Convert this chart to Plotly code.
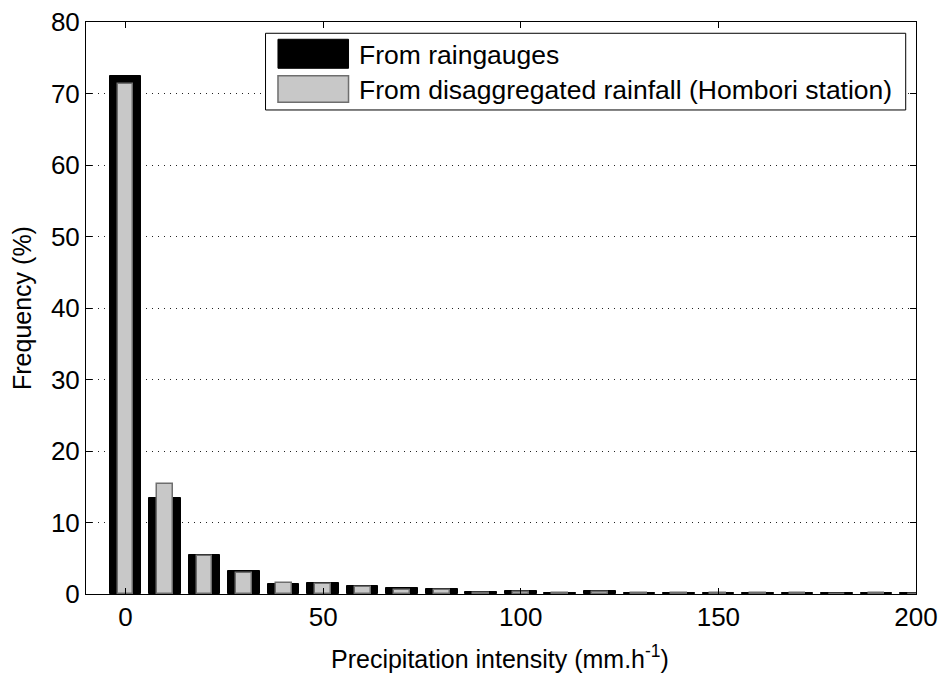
import plotly.graph_objects as go

# Data
bin_centers = [0, 10, 20, 30, 40, 50, 60, 70, 80, 90, 100, 110, 120, 130, 140, 150, 160, 170, 180, 190, 200]
raingauges = [72.4, 13.4, 5.4, 3.2, 1.4, 1.6, 1.05, 0.8, 0.65, 0.3, 0.4, 0.2, 0.45, 0.2, 0.2, 0.2, 0.15, 0.2, 0.12, 0.2, 0.15]
disaggregated = [71.3, 15.4, 5.3, 2.9, 1.6, 1.45, 1.0, 0.55, 0.5, 0.2, 0.3, 0.12, 0.35, 0.1, 0.1, 0.12, 0.08, 0.1, 0.06, 0.1, 0.05]
x_ticks = [0, 50, 100, 150, 200]
y_ticks = [0, 10, 20, 30, 40, 50, 60, 70, 80]
series_names = ["From raingauges", "From disaggregated rainfall (Hombori station)"]
x_title = "Precipitation intensity (mm.h<sup>-1</sup>)"
y_title = "Frequency (%)"

FONT = "Liberation Sans, Arial, sans-serif"
GRAY = "#c8c8c8"
GRAY_EDGE = "#6e6e6e"

fig = go.Figure()
fig.add_trace(go.Bar(x=bin_centers, y=raingauges, width=8, name=series_names[0],
                     marker=dict(color="black", line=dict(color="black", width=1)),
                     showlegend=False))
fig.add_trace(go.Bar(x=bin_centers, y=disaggregated, width=4, name=series_names[1],
                     marker=dict(color=GRAY, line=dict(color=GRAY_EDGE, width=1.5)),
                     showlegend=False))

axis_common = dict(showline=True, linecolor="black", linewidth=1, mirror="ticks",
                   ticks="inside", ticklen=6, tickcolor="black", zeroline=False,
                   automargin=False,
                   tickfont=dict(family=FONT, size=26, color="black"))

fig.update_layout(
    width=942, height=675,
    margin=dict(l=86, r=26, t=22, b=81),
    paper_bgcolor="white", plot_bgcolor="white",
    barmode="overlay", bargap=0,
    font=dict(family=FONT, size=26, color="black"),
    xaxis=dict(range=[-10, 200], tickvals=x_ticks, showgrid=False, **axis_common),
    yaxis=dict(range=[0, 80], tickvals=y_ticks, showgrid=True,
               gridcolor="#222222", gridwidth=1, griddash="1px,5px", **axis_common),
)

# Axis titles
fig.add_annotation(xref="paper", yref="paper", x=0.4988, y=-0.110, text=x_title,
                   showarrow=False, xanchor="center", yanchor="middle",
                   font=dict(family=FONT, size=25, color="black"))
fig.add_annotation(xref="paper", yref="paper", x=-0.0771, y=0.5, text=y_title,
                   showarrow=False, xanchor="center", yanchor="middle", textangle=-90,
                   font=dict(family=FONT, size=25, color="black"))

# Legend drawn as a boxed key in paper coordinates
shapes = [
    dict(type="rect", xref="paper", yref="paper", x0=0.2163, x1=0.9876, y0=0.8462, y1=0.9803,
         line=dict(color="black", width=1), fillcolor="white", layer="above"),
    dict(type="rect", xref="paper", yref="paper", x0=0.2313, x1=0.3163, y0=0.9191, y1=0.9698,
         line=dict(color="black", width=1), fillcolor="black", layer="above"),
    dict(type="rect", xref="paper", yref="paper", x0=0.2313, x1=0.3163, y0=0.8596, y1=0.9061,
         line=dict(color=GRAY_EDGE, width=1.5), fillcolor=GRAY, layer="above"),
]
fig.update_layout(shapes=shapes)
for name, yc in zip(series_names, [0.9423, 0.8811]):
    fig.add_annotation(xref="paper", yref="paper", x=0.3265, y=yc, text=name,
                       showarrow=False, xanchor="left", yanchor="middle",
                       font=dict(family=FONT, size=26.5, color="black"))

fig.write_html("out.html")
